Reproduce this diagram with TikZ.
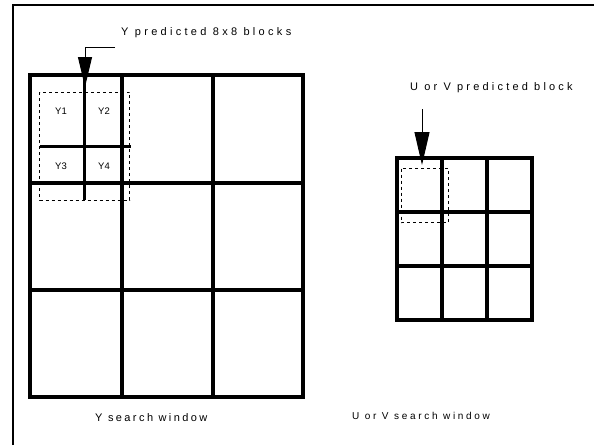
\documentclass[tikz,border=0pt]{standalone}
\usepackage{fontspec}
\setmainfont{Liberation Sans}
\usetikzlibrary{arrows.meta}
\newfontfamily\spacedA[LetterSpace=30]{Liberation Sans}
\newfontfamily\spacedB[LetterSpace=29]{Liberation Sans}
\newfontfamily\spacedC[LetterSpace=22]{Liberation Sans}
\newfontfamily\spacedD[LetterSpace=27]{Liberation Sans}
\begin{document}
\begin{tikzpicture}[x=1pt,y=-1pt,
  gridline/.style={line width=3.2pt,line cap=rect},
  subline/.style={line width=3pt},
  frameline/.style={line width=1.8pt},
  dashbox/.style={line width=0.9pt,dash pattern=on 3pt off 3pt},
  pointerA/.style={line width=1pt,-{Triangle[length=30pt,width=14pt]}},
  pointerB/.style={line width=1pt,-{Triangle[length=33pt,width=15pt]}},
  lbl/.style={inner sep=0pt,font=\fontsize{11}{13}\selectfont},
  cell/.style={inner sep=0pt,font=\fontsize{9.5}{11}\selectfont}]
\useasboundingbox (0,0) rectangle (594,445);
% outer frame (top and left only)
\draw[frameline] (13,445) -- (13,5) -- (594,5);
% Y search window grid
\foreach \x in {30,122,213,303} \draw[gridline] (\x,75) -- (\x,397);
\foreach \y in {75,183,290,397} \draw[gridline] (30,\y) -- (303,\y);
% subdivision of first block
\draw[subline] (84.5,75) -- (84.5,200);
\draw[subline] (40,146) -- (131,146);
\draw[dashbox] (39.5,92) rectangle (129.5,200);
\node[cell] (y1) at (61,111) {Y1};
\node[cell] (y2) at (104,111) {Y2};
\node[cell] (y3) at (61,166) {Y3};
\node[cell] (y4) at (104,166) {Y4};
% U/V search window grid
\foreach \x in {397,442,487,532} \draw[gridline] (\x,158) -- (\x,320);
\foreach \y in {158,212,266,320} \draw[gridline] (397,\y) -- (532,\y);
\draw[dashbox] (401,168.5) rectangle (448.5,222.5);
% labels
\node[lbl,anchor=west] (ylab) at (121,33) {\spacedA Y predicted 8x8 blocks};
\node[lbl,anchor=west] (uvlab) at (410,88) {\spacedB U or V predicted block};
\node[lbl,anchor=west] (ysw) at (95,418) {\spacedC Y search window};
\node[lbl,anchor=west,font=\fontsize{10}{12}\selectfont] (uvsw) at (352,416) {\spacedD U or V search window};
% pointers
\coordinate (pa0) at (115,47);
\coordinate (pa1) at (85,47);
\coordinate (pa2) at (85,87);
\draw[pointerA] (pa0) -- (pa1) -- (pa2);
\coordinate (pb0) at (422,109);
\coordinate (pb1) at (422,165);
\draw[pointerB] (pb0) -- (pb1);
\end{tikzpicture}
\end{document}
